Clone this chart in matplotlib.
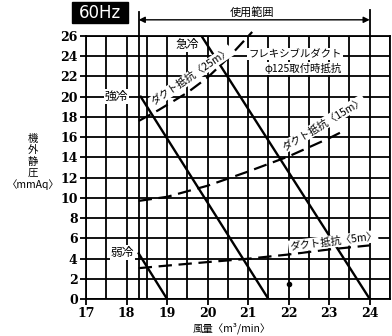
import matplotlib.pyplot as plt
from matplotlib.patches import Rectangle

plt.rcParams['font.family'] = ['Noto Sans CJK JP', 'DejaVu Sans']

# fan lines (airflow m3/min, static pressure mmAq)
kyurei_x = [19.85, 24.0]
kyurei_y = [26.0, 0.0]
kyorei_x = [18.35, 21.5]
kyorei_y = [20.0, 0.0]
jakurei_x = [18.3, 19.0]
jakurei_y = [4.5, 0.0]

# duct resistance curves
duct5_x = [18.3, 19.0, 20.0, 21.0, 22.0, 23.0, 24.0]
duct5_y = [3.05, 3.3, 3.65, 3.98, 4.4, 4.9, 5.3]
duct15_x = [18.3, 19.0, 20.0, 21.0, 22.0, 23.0, 23.3]
duct15_y = [9.7, 10.1, 11.2, 12.6, 14.1, 15.9, 16.5]
duct25_x = [18.3, 18.8, 19.5, 20.0, 20.5, 21.1]
duct25_y = [17.6, 18.7, 20.4, 21.9, 23.8, 26.4]

dot_x = [22.0]
dot_y = [1.5]

x_ticks = [17, 18, 19, 20, 21, 22, 23, 24]
y_ticks = list(range(0, 27, 2))
range_left = 18.3
range_right = 24.0

fig = plt.figure(figsize=(3.92, 3.36), dpi=100)
ax = fig.add_axes([86 / 392, 37 / 336, 304 / 392, 263 / 336])
ax.set_xlim(17, 24.5)
ax.set_ylim(0, 26)

# grid
for gx in [17 + 0.5 * i for i in range(16)]:
    ax.axvline(gx, color='black', lw=1.3, zorder=1)
for gy in y_ticks:
    ax.axhline(gy, color='black', lw=1.3, zorder=1)
for s in ax.spines.values():
    s.set_linewidth(1.3)

ax.set_xticks(x_ticks)
ax.set_yticks(y_ticks)
ax.tick_params(direction='out', length=4, width=1.3, pad=2)
for lab in ax.get_xticklabels() + ax.get_yticklabels():
    lab.set_family('DejaVu Serif')
    lab.set_fontweight('bold')
    lab.set_fontsize(9)

line_kw = dict(color='black', lw=1.7, zorder=3)
ax.plot(kyurei_x, kyurei_y, **line_kw)
ax.plot(kyorei_x, kyorei_y, **line_kw)
ax.plot(jakurei_x, jakurei_y, **line_kw)

dash_kw = dict(color='black', lw=1.6, dashes=(6, 3), zorder=3, clip_on=False)
ax.plot(duct5_x, duct5_y, **dash_kw)
ax.plot(duct15_x, duct15_y, **dash_kw)
ax.plot(duct25_x, duct25_y, **dash_kw)

ax.plot(dot_x, dot_y, 'o', color='black', ms=3, zorder=3)

# usage range
ax.plot([range_left, range_left], [0, 28.4], color='black', lw=1.3, clip_on=False, zorder=2)
ax.plot([range_right, range_right], [26, 28.6], color='black', lw=1.3, clip_on=False, zorder=2)
ax.annotate('', xy=(range_left, 27.6), xytext=(range_right, 27.6), annotation_clip=False,
            arrowprops=dict(arrowstyle='<|-|>', color='black', lw=1.0, shrinkA=0, shrinkB=0,
                            mutation_scale=9))
ax.text(21.1, 28.3, '使用範囲', ha='center', va='center', fontsize=8, clip_on=False)

box = dict(facecolor='white', edgecolor='none', pad=0.8)
ax.text(19.5, 25.2, '急冷', ha='center', va='center', fontsize=8.5, bbox=box, zorder=4)
ax.text(17.75, 20.0, '強冷', ha='center', va='center', fontsize=8.5, bbox=box, zorder=4)
ax.text(17.9, 4.6, '弱冷', ha='center', va='center', fontsize=8.5, bbox=box, zorder=4)

ax.text(19.6, 22.0, 'ダクト抵抗〈25m〉', ha='center', va='center', fontsize=7.5,
        rotation=34, bbox=box, zorder=4)
ax.text(22.85, 17.3, 'ダクト抵抗〈15m〉', ha='center', va='center', fontsize=7.5,
        rotation=31, bbox=box, zorder=4)
ax.text(23.1, 5.7, 'ダクト抵抗〈5m〉', ha='center', va='center', fontsize=7.5,
        rotation=7, bbox=box, zorder=4)
ax.text(22.15, 24.2, 'フレキシブルダクト', ha='center', va='center', fontsize=7.5,
        bbox=box, zorder=4)
ax.text(22.35, 22.8, 'φ125取付時抵抗', ha='center', va='center', fontsize=7.5,
        bbox=box, zorder=4)

# axis titles
fig.text(33 / 392, 1 - 162 / 336, '機\n外\n静\n圧\n〈mmAq〉', ha='center', va='center',
         fontsize=7.5, linespacing=1.15)
fig.text(232 / 392, 1 - 328 / 336, '風量〈m³/min〉', ha='center', va='center', fontsize=7.5)

# 60Hz badge
fig.patches.append(Rectangle((72 / 392, 1 - 23 / 336), 56 / 392, 21 / 336,
                             transform=fig.transFigure, color='black'))
fig.text(100 / 392, 1 - 12.5 / 336, '60Hz', ha='center', va='center', color='white',
         fontsize=12, family='DejaVu Sans')

fig.savefig('out.png', dpi=100)
